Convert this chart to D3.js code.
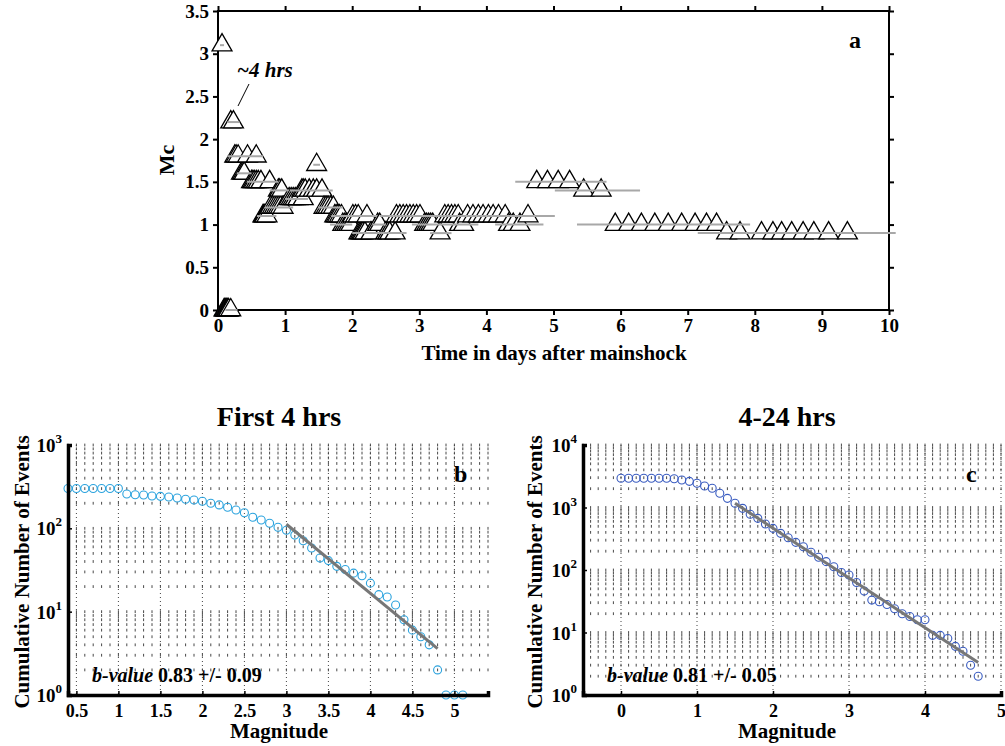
<!DOCTYPE html>
<head>
  <meta charset="utf-8">
  <title>Mc and FMD</title>
  <style>
    body { margin: 0; background: #fff; }
    svg text { font-family: "Liberation Serif", "Times New Roman", serif; font-weight: bold; fill: #000; }
    .axis path, .axis line { stroke: #000; }
    .axis text { font-size: 19px; }
    .tri { fill: #fff; stroke: #000; stroke-width: 1.3px; }
    .win { stroke: #a8a8a8; stroke-width: 2px; }
    .gridcol { stroke: #444; stroke-width: 1px; stroke-dasharray: 1,3; }
    .gridrow { stroke: #333; stroke-width: 0.9px; fill: none; }
    .fit { stroke: #777; stroke-width: 3px; fill: none; }
  </style>
</head>
<body>
  <div id="chart"></div>
  <script src="https://d3js.org/d3.v7.min.js"></script>
  <script>
    // ---- panel a : Mc estimates, days after mainshock
    var mcDays = [
      0.06,
      0.09, 0.10, 0.11, 0.12, 0.13, 0.14, 0.15, 0.16, 0.19,
      0.19, 0.23,
      0.25, 0.27, 0.30, 0.44, 0.57,
      0.35, 0.37, 0.39,
      0.50, 0.52, 0.54, 0.57, 0.60, 0.64, 0.77,
      0.67, 0.68, 0.69, 0.70, 0.73,
      0.78, 0.81, 0.84, 0.87, 0.90, 0.93, 0.97,
      0.90, 0.92, 0.95,
      1.06, 1.09, 1.12, 1.15, 1.19, 1.27,
      1.25, 1.27, 1.30, 1.36, 1.42, 1.47, 1.55,
      1.47,
      1.58, 1.61, 1.64, 1.68, 1.72,
      1.74, 1.76, 1.78, 1.81, 1.84,
      1.86, 1.89, 1.92, 1.95, 1.98,
      2.01, 2.05, 2.09, 2.22,
      2.10, 2.12, 2.14, 2.16, 2.19, 2.28, 2.50, 2.53, 2.56, 2.64,
      2.38, 2.41,
      2.66, 2.71, 2.76, 2.81, 2.86, 2.91, 2.96, 3.01,
      3.08, 3.11, 3.14, 3.17, 3.20,
      3.31,
      3.38, 3.43, 3.48, 3.53, 3.58,
      3.60, 3.66,
      3.72, 3.80, 3.88, 3.95, 4.03, 4.10, 4.18, 4.28,
      4.33, 4.40, 4.50,
      4.62,
      4.75, 4.91, 5.07, 5.24,
      5.45, 5.71,
      5.92, 6.12, 6.31, 6.51, 6.71, 6.91, 7.11, 7.28, 7.43,
      7.58, 7.78, 8.10, 8.27, 8.40, 8.55, 8.72, 8.88, 9.10, 9.38
    ];
    var mcValues = [
      3.1,
      0, 0, 0, 0, 0, 0, 0, 0, 0,
      2.2, 2.2,
      1.8, 1.8, 1.8, 1.8, 1.8,
      1.6, 1.6, 1.6,
      1.5, 1.5, 1.5, 1.5, 1.5, 1.5, 1.5,
      1.1, 1.1, 1.1, 1.1, 1.1,
      1.2, 1.2, 1.2, 1.2, 1.2, 1.2, 1.2,
      1.4, 1.4, 1.4,
      1.3, 1.3, 1.3, 1.3, 1.3, 1.3,
      1.4, 1.4, 1.4, 1.4, 1.4, 1.4, 1.4,
      1.7,
      1.2, 1.2, 1.2, 1.2, 1.2,
      1.1, 1.1, 1.1, 1.1, 1.1,
      1.0, 1.0, 1.0, 1.0, 1.0,
      1.1, 1.1, 1.1, 1.1,
      0.9, 0.9, 0.9, 0.9, 0.9, 0.9, 0.9, 0.9, 0.9, 0.9,
      1.0, 1.0,
      1.1, 1.1, 1.1, 1.1, 1.1, 1.1, 1.1, 1.1,
      1.0, 1.0, 1.0, 1.0, 1.0,
      0.9,
      1.1, 1.1, 1.1, 1.1, 1.1,
      1.0, 1.0,
      1.1, 1.1, 1.1, 1.1, 1.1, 1.1, 1.1, 1.1,
      1.0, 1.0, 1.0,
      1.1,
      1.5, 1.5, 1.5, 1.5,
      1.4, 1.4,
      1.0, 1.0, 1.0, 1.0, 1.0, 1.0, 1.0, 1.0, 1.0,
      0.9, 0.9, 0.9, 0.9, 0.9, 0.9, 0.9, 0.9, 0.9, 0.9
    ];
    // time windows (grey bars)
    var winMc   = [0,    3.1,  2.2,  1.8,  1.6,  1.5,  1.1,  1.2,  1.4,  1.3,  1.4,  1.7,  1.2,  1.1,  1.0,  0.9,  1.0,  1.1,  1.0,  0.9,  1.0,  1.5,  1.4,  1.0,  0.9];
    var winFrom = [0.11, 0.03, 0.14, 0.14, 0.28, 0.43, 0.58, 0.70, 0.77, 1.00, 1.07, 1.42, 1.49, 1.69, 1.67, 2.00, 2.30, 2.41, 2.89, 3.16, 4.13, 4.43, 5.02, 5.35, 7.15];
    var winTo   = [0.29, 0.09, 0.32, 0.67, 0.50, 0.90, 0.87, 1.12, 1.05, 1.34, 1.71, 1.52, 1.86, 2.37, 2.00, 2.81, 2.50, 5.02, 3.88, 3.48, 4.85, 5.79, 6.29, 7.93, 10.1];

    // ---- panel b : first 4 hrs
    var magB = [0.4, 0.5, 0.6, 0.7, 0.8, 0.9, 1.0, 1.1, 1.2, 1.3, 1.4, 1.5, 1.6, 1.7, 1.8, 1.9,
                2.0, 2.1, 2.2, 2.3, 2.4, 2.5, 2.6, 2.7, 2.8, 2.9, 3.0, 3.1, 3.2, 3.3, 3.4, 3.5,
                3.6, 3.7, 3.8, 3.9, 4.0, 4.1, 4.2, 4.3, 4.4, 4.5, 4.6, 4.7, 4.8, 4.9, 5.0, 5.1];
    var countB = [300, 300, 300, 300, 300, 300, 300, 258, 253, 251, 244, 242, 238, 231, 223, 219,
                  211, 200, 191, 179, 166, 154, 136, 126, 115, 103, 95, 83, 71, 58, 44, 41,
                  35, 32, 29, 27, 22, 16, 15, 12, 8, 6, 5, 4, 2, 1, 1, 1];
    var fitMagB = [3.0, 4.8];
    var fitCountB = [112, 3.6];

    // ---- panel c : 4-24 hrs
    var magC = [0.0, 0.1, 0.2, 0.3, 0.4, 0.5, 0.6, 0.7, 0.8, 0.9, 1.0, 1.1, 1.2, 1.3, 1.4, 1.5,
                1.6, 1.7, 1.8, 1.9, 2.0, 2.1, 2.2, 2.3, 2.4, 2.5, 2.6, 2.7, 2.8, 2.9, 3.0, 3.1,
                3.2, 3.3, 3.4, 3.5, 3.6, 3.7, 3.8, 3.9, 4.0, 4.1, 4.2, 4.3, 4.4, 4.5, 4.6, 4.7];
    var countC = [2930, 2930, 2930, 2930, 2930, 2930, 2930, 2890, 2750, 2620, 2440, 2210, 2030, 1690, 1400, 1170,
                  970, 780, 671, 545, 464, 386, 329, 277, 236, 192, 160, 136, 113, 91, 83, 63,
                  46, 33, 31, 28, 24, 20, 18, 16, 16, 9, 9, 8, 6, 5, 3, 2];
    var fitMagC = [1.5, 4.7];
    var fitCountC = [1170, 3.3];

    var xTicksA = [0, 1, 2, 3, 4, 5, 6, 7, 8, 9, 10];
    var yTicksA = [0, 0.5, 1, 1.5, 2, 2.5, 3, 3.5];
    var xTicksB = [0.5, 1, 1.5, 2, 2.5, 3, 3.5, 4, 4.5, 5];
    var xTicksC = [0, 1, 2, 3, 4, 5];

    var width = 1005, height = 746;
    var svg = d3.select("#chart").append("svg")
        .attr("width", width)
        .attr("height", height);

    // ================= panel a =================
    var xa = d3.scaleLinear().domain([0, 10]).range([218, 889]);
    var ya = d3.scaleLinear().domain([0, 3.5]).range([310, 11]);

    svg.append("rect")
      .attr("x", 218).attr("y", 11)
      .attr("width", 889 - 218).attr("height", 310 - 11)
      .attr("fill", "none").attr("stroke", "#000").attr("stroke-width", 2);

    svg.append("g").attr("class", "axis").attr("transform", "translate(0,310)")
      .call(d3.axisBottom(xa).tickValues(xTicksA).tickSize(5).tickPadding(4).tickFormat(d3.format("")));
    svg.append("g").attr("class", "axis").attr("transform", "translate(0,11)")
      .call(d3.axisTop(xa).tickValues(xTicksA).tickSize(5).tickFormat(""));
    svg.append("g").attr("class", "axis").attr("transform", "translate(218,0)")
      .call(d3.axisLeft(ya).tickValues(yTicksA).tickSize(5).tickPadding(4).tickFormat(d3.format("")));
    svg.append("g").attr("class", "axis").attr("transform", "translate(889,0)")
      .call(d3.axisRight(ya).tickValues(yTicksA).tickSize(5).tickFormat(""));
    svg.selectAll(".axis path.domain").remove();
    svg.selectAll(".axis line").attr("stroke-width", 2);

    var order = d3.range(mcDays.length).sort(function(a, b) { return mcDays[a] - mcDays[b] || a - b; });
    var tri = d3.symbol().type(d3.symbolTriangle).size(172);
    svg.append("g").selectAll("path")
      .data(order)
      .enter().append("path")
      .attr("class", "tri")
      .attr("transform", function(i) { return "translate(" + xa(mcDays[i]) + "," + ya(mcValues[i]) + ")"; })
      .attr("d", tri);

    svg.append("g").selectAll("line")
      .data(d3.range(winMc.length))
      .enter().append("line")
      .attr("class", "win")
      .attr("x1", function(i) { return xa(winFrom[i]); })
      .attr("x2", function(i) { return xa(winTo[i]); })
      .attr("y1", function(i) { return ya(winMc[i]); })
      .attr("y2", function(i) { return ya(winMc[i]); });

    svg.append("text").attr("x", 237).attr("y", 77)
      .style("font-size", "21px").style("font-style", "italic").text("~4 hrs");
    svg.append("line").attr("x1", 249).attr("y1", 84).attr("x2", 238).attr("y2", 106)
      .attr("stroke", "#000").attr("stroke-width", 1);
    svg.append("text").attr("x", 849).attr("y", 48).style("font-size", "24px").text("a");
    svg.append("text").attr("transform", "translate(174,160) rotate(-90)")
      .attr("text-anchor", "middle").style("font-size", "22px").text("Mc");
    svg.append("text").attr("x", 554).attr("y", 360)
      .attr("text-anchor", "middle").style("font-size", "21px").text("Time in days after mainshock");

    // ================= panels b, c =================
    function fmdPanel(opt) {
      var x = d3.scaleLinear().domain(opt.xDomain).range(opt.xRange);
      var y = d3.scaleLog().domain(opt.yDomain).range([695, 445]);
      var g = svg.append("g");

      // dotted grid
      var cols = d3.range(Math.round(opt.xDomain[0] * 10), Math.round(opt.xDomain[1] * 10) + 1)
          .map(function(i) { return i / 10; });
      var rows = y.ticks().filter(function(v) { return v > opt.yDomain[0]; });
      g.selectAll(".gridrow")
        .data(rows)
        .enter().append("path")
        .attr("class", "gridrow")
        .attr("d", function(r) {
          return cols.map(function(c) { return "M" + x(c) + "," + (y(r) - 1.4) + "v2.8"; }).join("");
        });
      g.selectAll(".gridcol")
        .data(opt.xTicks)
        .enter().append("line")
        .attr("class", "gridcol")
        .attr("x1", function(d) { return x(d); })
        .attr("x2", function(d) { return x(d); })
        .attr("y1", y(opt.yDomain[1]))
        .attr("y2", y(opt.yDomain[0]));

      // data
      g.selectAll("circle")
        .data(opt.mag)
        .enter().append("circle")
        .attr("cx", function(d) { return x(d); })
        .attr("cy", function(d, i) { return y(opt.count[i]); })
        .attr("r", 4)
        .attr("fill", "none")
        .attr("stroke", opt.color)
        .attr("stroke-width", 1.1);

      g.append("path")
        .datum(d3.zip(opt.fitMag, opt.fitCount))
        .attr("class", "fit")
        .attr("d", d3.line().x(function(d) { return x(d[0]); }).y(function(d) { return y(d[1]); }));

      // axes
      var bottom = g.append("g").attr("class", "axis").attr("transform", "translate(0,695)")
        .call(d3.axisBottom(x).tickValues(opt.xTicks).tickSize(-4).tickPadding(9).tickFormat(d3.format("")));
      bottom.select(".domain").attr("stroke-width", 3.5);
      bottom.selectAll("text").style("font-size", "18px");
      var powers = d3.range(0, Math.round(Math.log10(opt.yDomain[1])) + 1).map(function(p) { return Math.pow(10, p); });
      var left = g.append("g").attr("class", "axis").attr("transform", "translate(" + opt.xRange[0] + ",0)")
        .call(d3.axisLeft(y).tickValues(powers).tickSize(-4).tickFormat(""));
      left.select(".domain").attr("stroke-width", 3.5);
      g.selectAll(".axis line").attr("stroke-width", 1.5);

      var lab = g.selectAll(".ylab")
        .data(powers)
        .enter().append("text")
        .attr("class", "ylab")
        .attr("x", opt.xRange[0] - 6)
        .attr("y", function(d) { return y(d) + 7; })
        .attr("text-anchor", "end")
        .style("font-size", "19px");
      lab.append("tspan").text("10");
      lab.append("tspan").attr("dy", -9).style("font-size", "13px")
        .text(function(d) { return Math.round(Math.log10(d)); });

      g.append("text").attr("x", opt.titleX).attr("y", 426).attr("text-anchor", "middle")
        .style("font-size", "28px").text(opt.title);
      g.append("text").attr("x", opt.titleX).attr("y", 738).attr("text-anchor", "middle")
        .style("font-size", "21px").text("Magnitude");
      g.append("text").attr("transform", "translate(" + opt.ylabX + ",572) rotate(-90)")
        .attr("text-anchor", "middle").style("font-size", "21px").text("Cumulative Number of Events");
      g.append("text").attr("x", opt.letterX).attr("y", 482).style("font-size", "24px").text(opt.letter);

      var bv = g.append("text").attr("x", opt.xRange[0] + 24).attr("y", 682).style("font-size", "20px");
      bv.append("tspan").style("font-style", "italic").text("b-value");
      bv.append("tspan").text(" " + opt.bText);
    }

    fmdPanel({
      xDomain: [0.4, 5.4], xRange: [68, 488], yDomain: [1, 1000],
      xTicks: xTicksB, mag: magB, count: countB, fitMag: fitMagB, fitCount: fitCountB,
      color: "#2ba3de", title: "First 4 hrs", titleX: 279, ylabX: 29, letter: "b", letterX: 454,
      bText: "0.83 +/- 0.09"
    });
    fmdPanel({
      xDomain: [-0.5, 5], xRange: [583, 1001], yDomain: [1, 10000],
      xTicks: xTicksC, mag: magC, count: countC, fitMag: fitMagC, fitCount: fitCountC,
      color: "#3a5cc0", title: "4-24 hrs", titleX: 787, ylabX: 542, letter: "c", letterX: 966,
      bText: "0.81 +/- 0.05"
    });
  </script>
</body>
